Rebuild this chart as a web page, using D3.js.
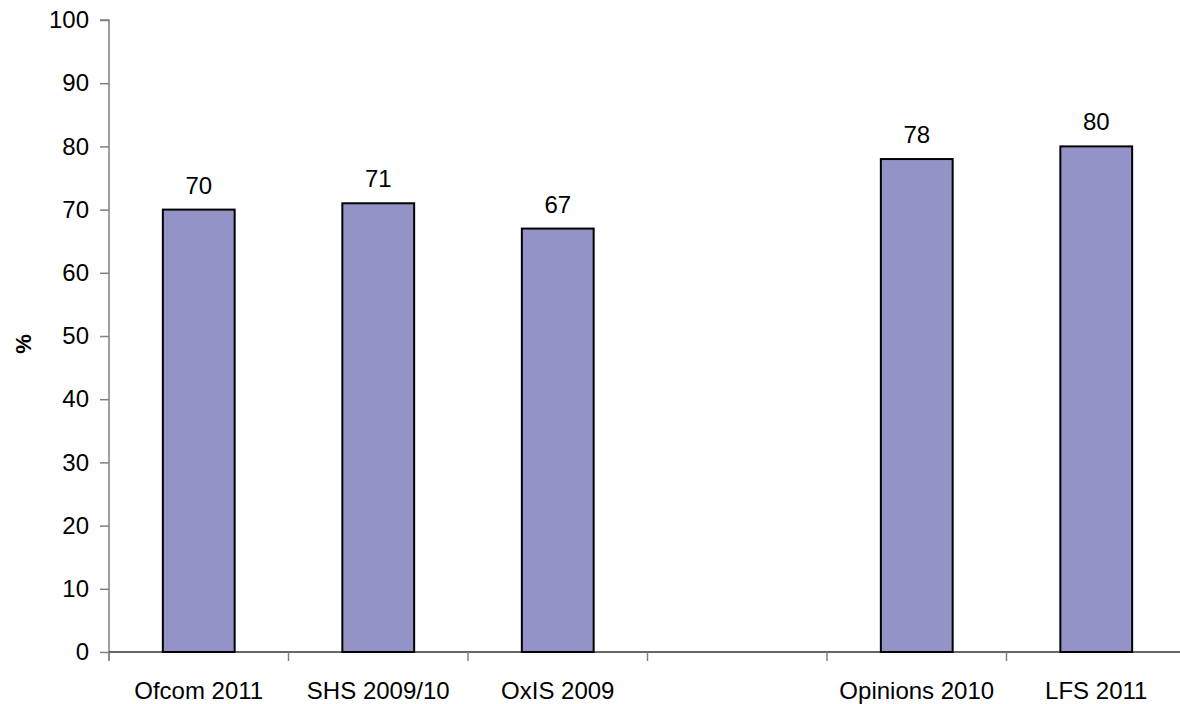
<!DOCTYPE html>
<html>
<head>
<meta charset="utf-8">
<script src="https://cdn.jsdelivr.net/npm/d3@7"></script>
<style>
  html, body { margin: 0; padding: 0; background: #fff; }
  svg text { font-family: "Liberation Sans", Arial, sans-serif; fill: #000; }
</style>
</head>
<body>
<svg id="chart" width="1180" height="704"></svg>
<script>
// Survey sources (one blank slot separates the two groups)
const categories = ["Ofcom 2011", "SHS 2009/10", "OxIS 2009", "", "Opinions 2010", "LFS 2011"];
const values = [70, 71, 67, null, 78, 80];
const yTicks = [0, 10, 20, 30, 40, 50, 60, 70, 80, 90, 100];

const svg = d3.select("#chart");
const plotLeft = 109, plotRight = 1186, plotTop = 20, plotBottom = 652;

const x = d3.scaleBand().domain(d3.range(categories.length)).range([plotLeft, plotRight]).padding(0);
const y = d3.scaleLinear().domain([0, 100]).range([plotBottom, plotTop]);
const barW = x.bandwidth() * 0.4;

// Y axis
const yAxis = svg.append("g").attr("transform", `translate(${plotLeft},0)`)
  .call(d3.axisLeft(y).tickValues(yTicks).tickSize(9).tickPadding(11));
yAxis.select(".domain").attr("stroke", "#808080").attr("stroke-width", 1.5)
  .attr("d", `M-9,${plotTop}H0V${plotBottom + 8}`);
yAxis.selectAll(".tick line").attr("stroke", "#808080").attr("stroke-width", 1.5);
yAxis.selectAll(".tick text").attr("font-size", 24).attr("font-family", "Liberation Sans, Arial, sans-serif");

// Y axis title
svg.append("text")
  .attr("transform", `translate(31,${(plotTop + plotBottom) / 2 + 8}) rotate(-90)`)
  .attr("text-anchor", "middle")
  .attr("font-size", 22).attr("font-weight", "bold")
  .text("%");

// X axis line and slot boundary ticks
svg.append("line").attr("x1", plotLeft).attr("x2", plotRight).attr("y1", plotBottom).attr("y2", plotBottom)
  .attr("stroke", "#333").attr("stroke-width", 1.5);
const bounds = d3.range(categories.length + 1).map(i => plotLeft + i * x.step());
svg.append("g").selectAll("line").data(bounds).join("line")
  .attr("x1", d => d).attr("x2", d => d)
  .attr("y1", plotBottom).attr("y2", plotBottom + 9)
  .attr("stroke", "#808080").attr("stroke-width", 1.5);

// Category labels
svg.append("g").selectAll("text").data(categories).join("text")
  .attr("x", (d, i) => x(i) + x.bandwidth() / 2)
  .attr("y", plotBottom + 47)
  .attr("text-anchor", "middle")
  .attr("font-size", 24)
  .text(d => d);

const data = categories.map((c, i) => ({ i, c, v: values[i] })).filter(d => d.v != null);

// Bars
svg.append("g").selectAll("rect").data(data).join("rect")
  .attr("x", d => x(d.i) + (x.bandwidth() - barW) / 2)
  .attr("y", d => y(d.v))
  .attr("width", barW)
  .attr("height", d => plotBottom - y(d.v))
  .attr("fill", "#9393c8")
  .attr("stroke", "#000").attr("stroke-width", 2);

// Value labels
svg.append("g").selectAll("text").data(data).join("text")
  .attr("x", d => x(d.i) + x.bandwidth() / 2)
  .attr("y", d => y(d.v) - 16)
  .attr("text-anchor", "middle")
  .attr("font-size", 24)
  .text(d => d.v);
</script>
</body>
</html>
